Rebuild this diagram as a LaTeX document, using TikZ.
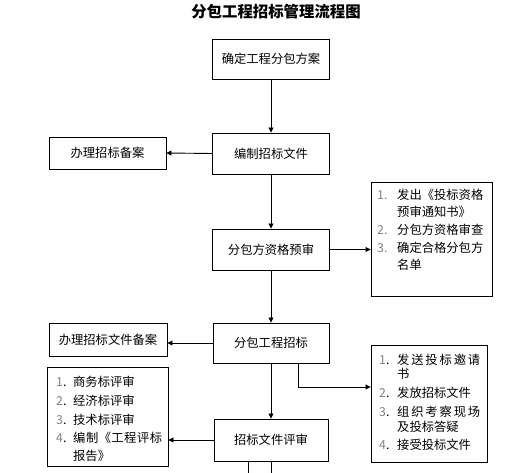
\documentclass[tikz,border=0pt]{standalone}
\usepackage{fontspec}
\setmainfont{Noto Sans CJK SC}
\usetikzlibrary{arrows.meta,calc}
\begin{document}
\begin{tikzpicture}[x=1pt,y=-1pt,
  box/.style={draw,line width=0.9pt,inner sep=0pt,font=\fontsize{12.3}{14}\selectfont},
  conn/.style={line width=0.9pt},
  arr/.style={conn,-{Triangle[length=5pt,width=5pt]}},
  li/.style={anchor=base west,inner sep=0pt,font=\fontsize{12.3}{14}\selectfont},
  num/.style={anchor=base west,inner sep=0pt,font=\fontsize{12.3}{14}\selectfont,text=gray}]
\useasboundingbox (0,0) rectangle (523,473);
\node[inner sep=0pt,font=\fontsize{15.4}{18}\selectfont\bfseries] (title) at (276,12) {分包工程招标管理流程图};
% main column
\node[box,minimum width=117pt,minimum height=40pt] (b1) at (271,59) {确定工程分包方案};
\node[box,minimum width=117pt,minimum height=41pt] (b2) at (271,153.5) {编制招标文件};
\node[box,minimum width=117pt,minimum height=41pt] (b3) at (271,249.5) {分包方资格预审};
\node[box,minimum width=116pt,minimum height=40pt] (b4) at (271,343) {分包工程招标};
\node[box,minimum width=114pt,minimum height=42pt] (b5) at (271,440) {招标文件评审};
% side boxes
\node[box,minimum width=117pt,minimum height=32pt] (a1) at (107.5,153) {办理招标备案};
\node[box,minimum width=118pt,minimum height=33pt] (a2) at (108,339.5) {办理招标文件备案};
\node[box,minimum width=121pt,minimum height=114pt] (r1) at (431.5,239) {};
\node[box,minimum width=116pt,minimum height=117pt] (r2) at (429,403.5) {};
\node[box,minimum width=121pt,minimum height=99pt] (l3) at (107.5,416.5) {};
% r1 text
\node[num] (r1n1) at (377,199.5) {1.};
\node[li] (r1t1) at (397,199.5) {发出《投标资格};
\node[li] (r1t1b) at (397,216.5) {预审通知书》};
\node[num] (r1n2) at (377,234.5) {2.};
\node[li] (r1t2) at (397,234.5) {分包方资格审查};
\node[num] (r1n3) at (377,252.5) {3.};
\node[li] (r1t3) at (397,252.5) {确定合格分包方};
\node[li] (r1t3b) at (397,269.5) {名单};
% r2 text
\node[num] (r2n1) at (379,364.5) {1\textcolor{black}{.}};
\node[li] (r2t1) at (397,364.5) {\makebox[83pt][s]{发\hfill 送\hfill 投\hfill 标\hfill 邀\hfill 请}};
\node[li] (r2t1b) at (397,379) {书};
\node[num] (r2n2) at (379,397.5) {2\textcolor{black}{.}};
\node[li] (r2t2) at (397,397.5) {发放招标文件};
\node[num] (r2n3) at (379,416.5) {3\textcolor{black}{.}};
\node[li] (r2t3) at (397,416.5) {\makebox[83pt][s]{组\hfill 织\hfill 考\hfill 察\hfill 现\hfill 场}};
\node[li] (r2t3b) at (397,432) {及投标答疑};
\node[num] (r2n4) at (379,449.5) {4\textcolor{black}{.}};
\node[li] (r2t4) at (397,449.5) {接受投标文件};
% l3 text
\node[num] (l3n1) at (56,386.5) {1\textcolor{black}{.}};
\node[li] (l3t1) at (73,386.5) {商务标评审};
\node[num] (l3n2) at (56,406) {2\textcolor{black}{.}};
\node[li] (l3t2) at (73,406) {经济标评审};
\node[num] (l3n3) at (56,424.5) {3\textcolor{black}{.}};
\node[li] (l3t3) at (73,424.5) {技术标评审};
\node[num] (l3n4) at (56,442.5) {4\textcolor{black}{.}};
\node[li] (l3t4) at (73,442.5) {\makebox[89pt][s]{编\hfill 制\hfill 《工\hfill 程\hfill 评\hfill 标}};
\node[li] (l3t4b) at (73,461) {报告》};
% connectors
\draw[arr] (b1) -- (b2);
\draw[arr] (b2) -- (b3);
\draw[arr] (b3) -- (b4);
\draw[arr] (b4) -- (b5);
\draw[arr] (b2.west) -- (a1.east);
\draw[arr] (b3.east) -- (b3.east -| r1.west);
\draw[arr] (b4.west) -- (b4.west -| a2.east);
\draw[arr] (b5.west) -- (b5.west -| l3.east);
\coordinate (c1) at (298,363);
\coordinate (c2) at (298,387);
\draw[arr] (c1) -- (c2) -- (c2 -| r2.west);
\coordinate (d1) at (248,461);
\coordinate (d2) at (248,473);
\coordinate (e1) at (271,461);
\coordinate (e2) at (271,473);
\draw[conn] (d1) -- (d2);
\draw[conn] (e1) -- (e2);
\end{tikzpicture}
\end{document}
